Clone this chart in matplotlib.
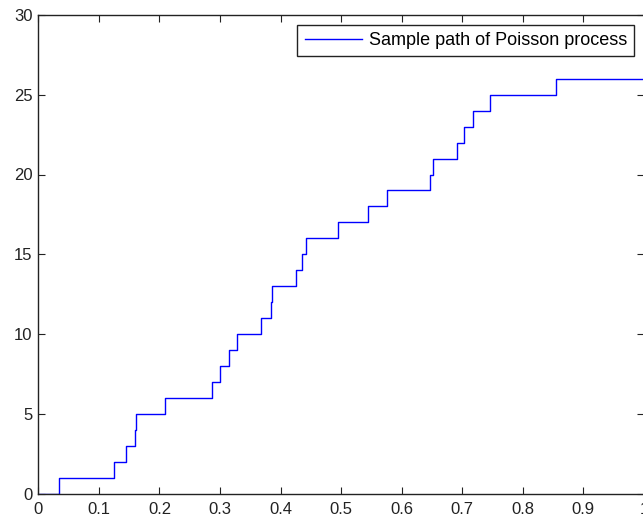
import matplotlib.pyplot as plt
import numpy as np

plt.rcParams['font.family'] = ['Liberation Sans', 'DejaVu Sans']

# Arrival times
arrivals = [0.034, 0.1255, 0.144, 0.160, 0.161, 0.210, 0.287, 0.3006, 0.3145,
            0.3277, 0.367, 0.3850, 0.3852, 0.425, 0.436, 0.4426, 0.494, 0.544,
            0.5764, 0.647, 0.651, 0.691, 0.702, 0.718, 0.746, 0.8545]
t_end = 1.0

# Build the step path
times = np.concatenate(([0.0], arrivals, [t_end]))
counts = np.concatenate(([0], np.arange(1, len(arrivals) + 1), [len(arrivals)]))

fig = plt.figure(figsize=(6.43, 5.18), dpi=100)
ax = fig.add_axes([38.3 / 643, (518 - 493.5) / 518, (644 - 38.3) / 643, (493.5 - 15) / 518])

ax.plot(times, counts, drawstyle='steps-post', color='#0000ff', lw=1.0,
        label='Sample path of Poisson process')

ax.set_xlim(0, 1)
ax.set_ylim(0, 30)
ax.set_xticks(np.arange(0, 1.01, 0.1))
ax.set_xticklabels(['0', '0.1', '0.2', '0.3', '0.4', '0.5', '0.6', '0.7', '0.8', '0.9', '1'])
ax.set_yticks(np.arange(0, 31, 5))
ax.tick_params(direction='in', top=True, right=True, length=5, labelsize=12,
               colors='#222222')
ax.tick_params(axis='x', pad=6)
ax.tick_params(axis='y', pad=4)
for s in ax.spines.values():
    s.set_color('#222222')
    s.set_linewidth(1.0)

leg = ax.legend(loc='upper right', fontsize=13, fancybox=False, framealpha=1,
                edgecolor='#222222', handlelength=3.2, handletextpad=0.35,
                borderaxespad=0.55, borderpad=0.4)
leg.get_frame().set_linewidth(1.0)

plt.savefig('out.png', dpi=100)
